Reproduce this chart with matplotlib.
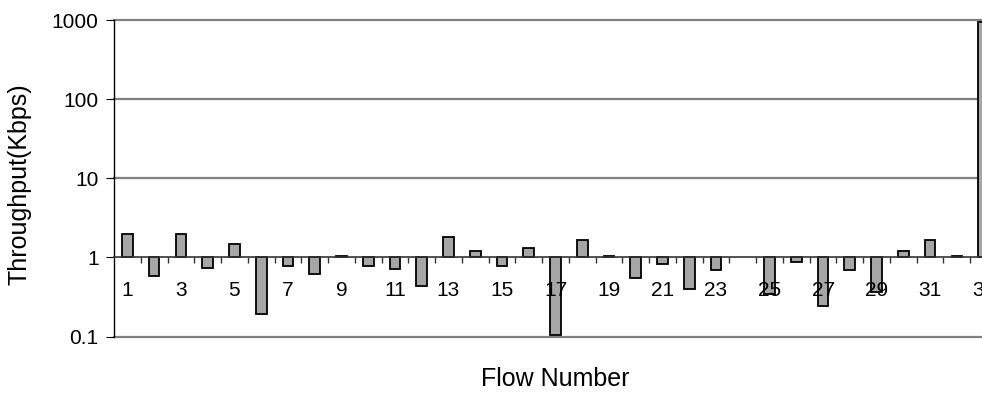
import numpy as np
import matplotlib
matplotlib.use("Agg")
import matplotlib.pyplot as plt

plt.rcParams['font.family'] = ['Liberation Sans', 'DejaVu Sans']

# 每条流的吞吐量 (Kbps)，基线为 1
flows = list(range(1, 34))
throughput = [2.0, 0.59, 2.0, 0.74, 1.49, 0.19, 0.785, 0.62, 1.05, 0.785,
              0.72, 0.44, 1.81, 1.19, 0.785, 1.33, 0.105, 1.67, 1.05, 0.55,
              0.83, 0.40, 0.70, np.nan, 0.34, 0.88, 0.245, 0.70, 0.36, 1.19,
              1.67, 1.05, 940.0]
y_ticks = [0.1, 1, 10, 100, 1000]
y_tick_labels = ["0.1", "1", "10", "100", "1000"]
x_labels = [str(f) for f in flows if f % 2 == 1]

fig = plt.figure(figsize=(9.82, 3.93), dpi=100)
# 右边界超出画布，和原图一样被截断
ax = fig.add_axes([114 / 982, 1 - 336.5 / 393, 883 / 982, 316.5 / 393])

vals = np.array(throughput)
ax.bar(flows, vals - 1, bottom=1, width=0.4, color='#a6a6a6',
       edgecolor='black', linewidth=1.3, zorder=1)

ax.set_yscale('log')
ax.set_ylim(0.1, 1000)
ax.set_xlim(0.5, 33.5)

# 网格线放在柱子下面
for yv in [0.1, 10, 100, 1000]:
    ax.axhline(yv, color='#808080', linewidth=1.6, zorder=0, clip_on=False)

ax.spines['top'].set_visible(False)
ax.spines['right'].set_visible(False)
ax.spines['bottom'].set_position(('data', 1))
ax.spines['bottom'].set_color('#333333')
ax.spines['bottom'].set_linewidth(1.2)
ax.spines['left'].set_linewidth(1.0)

ax.set_yticks(y_ticks)
ax.set_yticklabels(y_tick_labels)
ax.yaxis.set_minor_locator(matplotlib.ticker.NullLocator())
ax.tick_params(axis='y', which='major', direction='out', length=6,
               labelsize=15, pad=5)

ax.set_xticks([f for f in flows if f % 2 == 1])
ax.set_xticklabels(x_labels)
ax.set_xticks(np.arange(1.5, 33, 1), minor=True)
ax.tick_params(axis='x', which='major', length=0, labelsize=15, pad=17)
ax.tick_params(axis='x', which='minor', direction='out', length=4,
               width=1.0, color='#333333')

ax.set_ylabel("Throughput(Kbps)", fontsize=18)
ax.yaxis.set_label_coords(-0.093, 0.482)
ax.set_xlabel("Flow Number", fontsize=18)
ax.xaxis.label.set_va('center')
ax.xaxis.set_label_coords(0.5, -0.135)

fig.savefig("out.png", dpi=100)
